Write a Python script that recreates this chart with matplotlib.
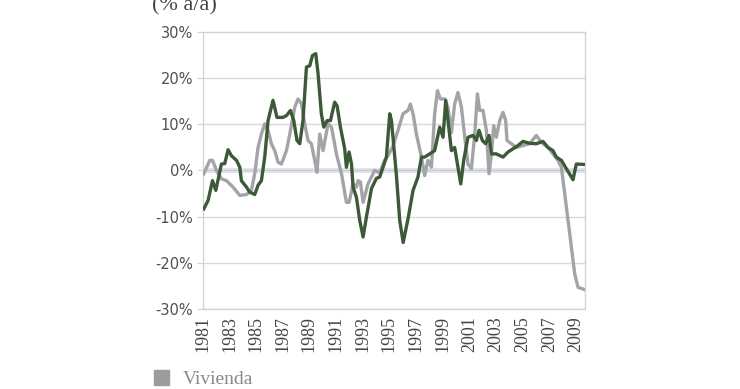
import numpy as np
import matplotlib
matplotlib.use("Agg")
import matplotlib.pyplot as plt
from matplotlib.patches import Patch

# serie verde oscura (sin etiqueta visible)
yrs_a = [1981.08, 1981.40, 1981.73, 1981.98, 1982.40, 1982.65, 1982.90, 1983.15, 1983.53, 1983.78,
         1983.90, 1984.28, 1984.53, 1984.90, 1985.15, 1985.40, 1985.65, 1985.90, 1986.27, 1986.57,
         1987.02, 1987.28, 1987.58, 1987.83, 1988.07, 1988.28, 1988.52, 1988.78, 1989.03, 1989.23,
         1989.48, 1989.65, 1989.90, 1990.08, 1990.33, 1990.58, 1990.90, 1991.08, 1991.33, 1991.65,
         1991.78, 1991.98, 1992.16, 1992.28, 1992.53, 1992.78, 1993.03, 1993.28, 1993.66, 1994.03,
         1994.28, 1994.78, 1995.03, 1995.16, 1995.53, 1995.78, 1996.04, 1996.40, 1996.78, 1997.15,
         1997.41, 1997.65, 1998.03, 1998.40, 1998.78, 1999.03, 1999.23, 1999.40, 1999.66, 1999.90,
         2000.15, 2000.36, 2000.58, 2000.90, 2001.28, 2001.53, 2001.73, 2001.98, 2002.23, 2002.48,
         2002.66, 2003.03, 2003.53, 2003.90, 2004.28, 2004.65, 2005.03, 2005.53, 2006.03, 2006.53,
         2006.90, 2007.28, 2007.53, 2007.91, 2008.28, 2008.66, 2008.78, 2009.03, 2009.66]
val_a = [-8.3, -6.5, -2.2, -4.3, 1.4, 1.5, 4.5, 3.2, 2.2, 0.7,
         -2.2, -3.6, -4.7, -5.2, -3.2, -2.2, 2.9, 10.8, 15.2, 11.5,
         11.5, 11.9, 13.0, 10.8, 6.5, 5.8, 10.8, 22.4, 22.7, 24.9,
         25.3, 21.0, 12.3, 9.4, 10.8, 10.8, 14.8, 14.0, 9.4, 4.7,
         0.7, 4.0, 1.4, -3.6, -5.8, -10.8, -14.4, -10.1, -3.9, -1.7,
         -1.4, 2.9, 12.3, 10.8, -1.0, -10.8, -15.6, -10.5, -4.3, -1.4,
         2.9, 2.9, 3.6, 4.3, 9.4, 7.2, 15.2, 10.8, 4.3, 5.0,
         0.7, -2.9, 2.2, 7.2, 7.6, 6.5, 8.7, 6.5, 5.8, 7.6,
         3.6, 3.6, 2.9, 4.0, 4.7, 5.4, 6.3, 5.9, 5.8, 6.3,
         5.0, 4.3, 2.9, 2.2, 0.4, -1.4, -2.0, 1.4, 1.3]

# Vivienda
yrs_v = [1981.08, 1981.53, 1981.73, 1982.03, 1982.40, 1982.78, 1983.27, 1983.78, 1984.28, 1984.65,
         1984.90, 1985.15, 1985.40, 1985.65, 1985.90, 1986.15, 1986.40, 1986.65, 1986.90, 1987.28,
         1987.53, 1987.90, 1988.15, 1988.40, 1988.65, 1988.90, 1989.15, 1989.40, 1989.57, 1989.78,
         1990.03, 1990.40, 1990.66, 1991.03, 1991.41, 1991.78, 1991.98, 1992.28, 1992.53, 1992.65,
         1992.83, 1993.03, 1993.40, 1993.90, 1994.28, 1994.65, 1994.98, 1995.28, 1995.65, 1996.03,
         1996.40, 1996.58, 1996.78, 1997.03, 1997.41, 1997.65, 1997.90, 1998.16, 1998.40, 1998.61,
         1998.83, 1999.16, 1999.40, 1999.66, 1999.90, 2000.15, 2000.41, 2000.66, 2000.90, 2001.16,
         2001.41, 2001.61, 2001.78, 2002.03, 2002.28, 2002.48, 2002.66, 2002.83, 2003.03, 2003.28,
         2003.53, 2003.73, 2003.83, 2004.16, 2004.53, 2005.03, 2005.53, 2006.03, 2006.41, 2006.90,
         2007.28, 2007.65, 2007.91, 2008.16, 2008.41, 2008.66, 2008.91, 2009.16, 2009.66]
val_v = [-0.7, 2.2, 2.2, 0.0, -1.8, -2.2, -3.6, -5.4, -5.2, -4.3,
         -0.7, 5.0, 7.9, 10.1, 8.7, 5.8, 4.3, 1.8, 1.4, 4.3,
         7.9, 13.7, 15.5, 14.5, 10.1, 6.5, 5.8, 2.2, -0.4, 7.9,
         4.3, 10.1, 9.4, 3.6, -0.7, -6.9, -6.9, -2.9, -3.6, -2.2,
         -2.5, -6.9, -2.9, 0.0, -0.5, 2.2, 3.6, 5.4, 8.7, 12.3,
         13.0, 14.4, 12.3, 7.9, 2.9, -1.1, 2.2, 0.7, 12.3, 17.3,
         15.5, 15.5, 13.7, 8.2, 14.4, 16.9, 13.7, 7.2, 1.4, 0.4,
         7.9, 16.6, 13.0, 13.0, 8.7, -0.7, 3.6, 9.7, 7.2, 10.8,
         12.6, 10.8, 6.5, 5.8, 5.0, 5.4, 5.8, 7.6, 6.1, 5.0,
         3.6, 2.2, 0.7, -5.0, -10.8, -16.6, -22.4, -25.3, -25.8]

year_ticks = list(range(1981, 2010, 2))
y_ticks = [-30, -20, -10, 0, 10, 20, 30]

fig = plt.figure(figsize=(7.4, 3.89), dpi=100)
ax = fig.add_axes([0.274, 0.2057, 0.5165, 0.712])

ax.set_xlim(1981, 2009.68)
ax.set_ylim(-30, 30)
ax.set_yticks(y_ticks)
ax.set_yticklabels([f"{t}%" for t in y_ticks])
ax.set_xticks(year_ticks)
ax.set_xticklabels([str(y) for y in year_ticks], rotation=90,
                   family="Liberation Serif", fontsize=13, color="#444444")
ax.grid(axis="y", color="#d9d9d9", lw=1.0)
ax.set_axisbelow(True)
for s in ax.spines.values():
    s.set_color("#d4d4d4")
    s.set_linewidth(1.0)
ax.tick_params(axis="x", length=0, pad=5)
ax.tick_params(axis="y", length=4, color="#d4d4d4", labelsize=10.5, labelcolor="#505050", pad=3)

# linea de cero: banda clara de marcas mensuales
ax.axhline(0, color="#dfe3ea", lw=3.5, zorder=1)
ax.axhline(0, color="#c4cad6", lw=0.8, zorder=1)

ax.plot(yrs_v, val_v, color="#a3a4a8", lw=2.4, solid_joinstyle="round", zorder=3)
ax.plot(yrs_a, val_a, color="#3c5a38", lw=2.4, solid_joinstyle="round", zorder=4)

fig.text(0.206, 0.985, "(% a/a)", family="Liberation Serif", fontsize=16,
         color="#444444", va="center", ha="left")

fig.legend(handles=[Patch(color="#9c9c9c", label="Vivienda")], loc="upper left",
           bbox_to_anchor=(0.198, 0.068), frameon=False, handlelength=0.75, handleheight=0.75,
           handletextpad=0.7, prop={"family": "Liberation Serif", "size": 14},
           labelcolor="#8a8a8a", borderaxespad=0)

fig.savefig("out.png", dpi=100)
